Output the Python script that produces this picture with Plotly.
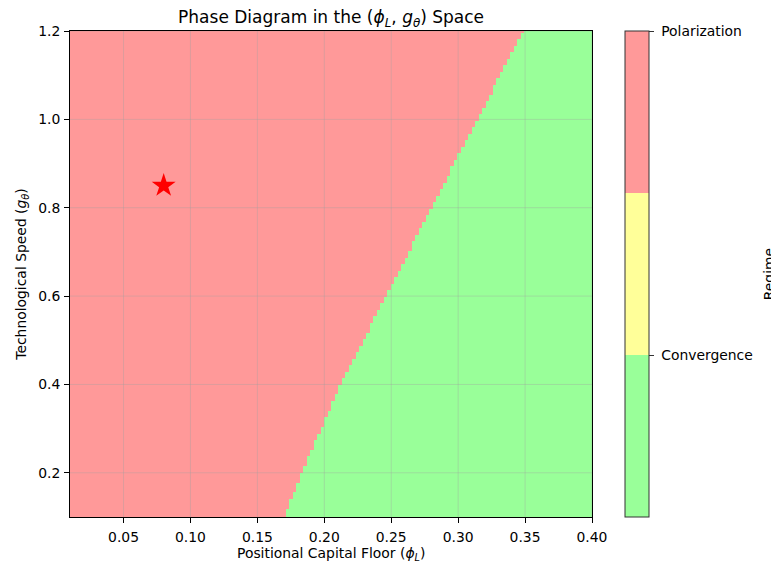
import numpy as np
import plotly.graph_objects as go

# ---- data ----
# boundary between regimes: phi_L value of the boundary at given g_theta
boundary_g = [0.10, 0.20, 0.40, 0.60, 0.90, 1.20]
boundary_phi = [0.170, 0.183, 0.212, 0.246, 0.297, 0.348]

phi_grid = np.linspace(0.01, 0.40, 150)
g_grid = np.linspace(0.10, 1.20, 150)

regime_labels = ["Convergence", "Polarization"]
regime_codes = [0, 1]

star_phi = [0.08]
star_g = [0.85]

x_ticks = [0.05, 0.10, 0.15, 0.20, 0.25, 0.30, 0.35, 0.40]
y_ticks = [0.2, 0.4, 0.6, 0.8, 1.0, 1.2]

GREEN = "#99FF99"
YELLOW = "#FFFF99"
RED = "#FF9999"

# regime map: polarization where phi_L is left of the boundary
bnd = np.interp(g_grid, boundary_g, boundary_phi)
z = (phi_grid[None, :] < bnd[:, None]).astype(int)

# figure geometry (page body has an 8px margin)
W, H = 771, 562
L, R, T, B = 61.7, 186.5, 23, 53
PW = W - L - R
PH = H - T - B

fig = go.Figure()
fig.add_trace(go.Heatmap(
    x=phi_grid, y=g_grid, z=z,
    colorscale=[[0, GREEN], [1, RED]], zmin=0, zmax=1,
    showscale=False, hoverinfo="skip",
))

fig.add_trace(go.Scatter(
    x=star_phi, y=star_g, mode="markers",
    marker=dict(symbol="star", size=18, color="red", line=dict(width=0)),
    showlegend=False,
))

# colorbar (discrete three-band, as in reference)
fig.add_trace(go.Scatter(
    x=[None], y=[None], mode="markers",
    marker=dict(
        color=[0], cmin=-0.5, cmax=1.0,
        colorscale=[[0, GREEN], [1/3, GREEN], [1/3, YELLOW], [2/3, YELLOW], [2/3, RED], [1, RED]],
        showscale=True,
        colorbar=dict(
            x=1.0 + 33.5 / PW, xanchor="left", xpad=0,
            y=0.5, yanchor="middle", len=1, lenmode="fraction", ypad=0,
            thickness=24, outlinewidth=1, outlinecolor="#333333",
            tickvals=regime_codes, ticktext=["\u00a0" + t for t in regime_labels],
            ticks="outside", ticklen=5, tickcolor="#333333",
            tickfont=dict(family="DejaVu Sans", size=13.9, color="black"),
        ),
    ),
    showlegend=False, hoverinfo="skip",
))

shapes = []
for xv in x_ticks:
    shapes.append(dict(type="line", xref="x", yref="y", x0=xv, x1=xv, y0=0.1, y1=1.2,
                       line=dict(color="rgba(160,160,160,0.45)", width=0.8), layer="above"))
for yv in y_ticks:
    shapes.append(dict(type="line", xref="x", yref="y", x0=0.01, x1=0.40, y0=yv, y1=yv,
                       line=dict(color="rgba(160,160,160,0.45)", width=0.8), layer="above"))

font = dict(family="DejaVu Sans", size=13.9, color="black")

fig.update_layout(
    width=W, height=H,
    margin=dict(l=L, r=R, t=T, b=B, autoexpand=False),
    paper_bgcolor="white", plot_bgcolor="white",
    font=font,
    showlegend=False,
    title=dict(
        text="Phase Diagram in the (<i>ϕ</i><sub><i>L</i></sub>, <i>g</i><sub><i>θ</i></sub>) Space",
        x=(L + L + PW) / 2 / W, xanchor="center", y=1 - 9 / H, yanchor="middle",
        font=dict(family="DejaVu Sans", size=17, color="black"),
    ),
    shapes=shapes,
    annotations=[
        dict(
            text="Regime", xref="paper", yref="paper", x=1.0 + (762 - L - PW) / PW, y=0.5,
            xanchor="center", yanchor="middle", textangle=-90, showarrow=False,
            font=font,
        ),
        dict(
            text="Positional Capital Floor (<i>ϕ</i><sub><i>L</i></sub>)",
            xref="paper", yref="paper", x=0.5, y=-(546 - (T + PH)) / PH,
            xanchor="center", yanchor="middle", showarrow=False, font=font,
        ),
    ],
)

fig.update_xaxes(
    range=[0.01, 0.40], tickvals=x_ticks, ticktext=[f"{v:.2f}" for v in x_ticks],
    showgrid=False, zeroline=False,
    showline=True, linecolor="black", linewidth=1, mirror=True,
    ticks="outside", ticklen=5, tickcolor="black", ticklabelstandoff=2,
    tickfont=font,
)
fig.update_yaxes(
    range=[0.1, 1.2], tickvals=y_ticks, ticktext=[f"{v:.1f}" for v in y_ticks],
    showgrid=False, zeroline=False,
    showline=True, linecolor="black", linewidth=1, mirror=True,
    ticks="outside", ticklen=5, tickcolor="black", ticklabelstandoff=1,
    tickfont=font,
    title=dict(text="Technological Speed (<i>g</i><sub><i>θ</i></sub>)", font=font, standoff=8),
)

fig.write_html("out.html")
